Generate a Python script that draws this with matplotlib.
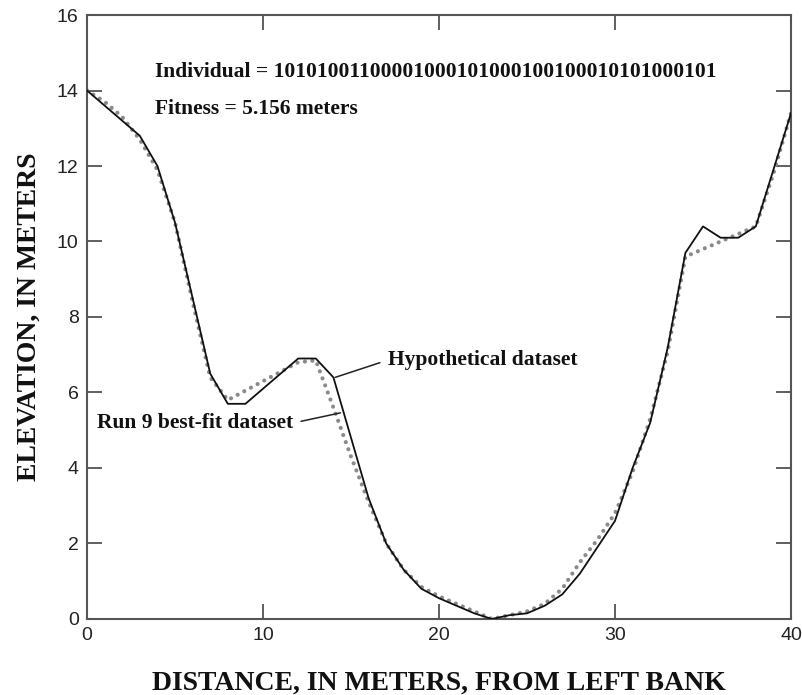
import matplotlib
matplotlib.use("Agg")
import matplotlib.pyplot as plt

# hypothetical channel cross-section (solid)
hypo_x = [0, 3, 4, 5, 6, 7, 8, 9, 12, 13, 14, 15, 16, 17, 18, 19, 20, 21, 22, 23, 24,
          25, 26, 27, 28, 29, 30, 31, 32, 33, 34, 35, 36, 37, 38, 39, 40]
hypo_y = [14.0, 12.8, 12.0, 10.5, 8.5, 6.5, 5.7, 5.7, 6.9, 6.9, 6.4, 4.8, 3.2, 2.0, 1.3, 0.8, 0.55,
          0.35, 0.15, 0.0, 0.1, 0.15, 0.35, 0.65, 1.2, 1.9, 2.6, 4.0, 5.2, 7.2, 9.7, 10.4, 10.1,
          10.1, 10.4, 11.9, 13.4]

# run 9 best-fit dataset (dotted)
best_x = list(range(0, 41))
best_y = [14.0, 13.7, 13.3, 12.7, 11.9, 10.5, 8.4, 6.4, 5.8, 6.05, 6.3, 6.55, 6.8, 6.85, 5.6,
          4.3, 3.1, 2.0, 1.3, 0.85, 0.6, 0.4, 0.2, 0.0, 0.1, 0.2, 0.4, 0.8, 1.5, 2.1, 2.8, 3.9,
          5.3, 7.1, 9.6, 9.8, 10.0, 10.2, 10.4, 11.8, 13.4]

x_ticks = [0, 10, 20, 30, 40]
y_ticks = [0, 2, 4, 6, 8, 10, 12, 14, 16]

individual = "101010011000010001010001001000101010001" + "01"
fitness = 5.156

SERIF = ["Liberation Serif", "DejaVu Serif"]
SANS = ["Liberation Sans", "DejaVu Sans"]

fig = plt.figure(figsize=(8.02, 6.95), dpi=100)
ax = fig.add_axes([0.1085, 0.1094, 0.8778, 0.8690])

ax.plot(best_x, best_y, color="#8a8a8a", lw=3.0, ls=(0, (0.01, 1.8)),
        dash_capstyle="round", zorder=2)
ax.plot(hypo_x, hypo_y, color="#111", lw=1.3, zorder=3)

ax.set_xlim(0, 40); ax.set_ylim(0, 16)
ax.set_xticks(x_ticks); ax.set_yticks(y_ticks)
ax.tick_params(direction="in", length=11, width=1.2, color="#444",
               top=True, right=True, labelsize=14, pad=6)
for lbl in ax.get_xticklabels() + ax.get_yticklabels():
    lbl.set_family(SANS); lbl.set_color("#222")
for s in ax.spines.values():
    s.set_color("#555"); s.set_linewidth(1.5)

ax.set_xlabel("DISTANCE, IN METERS, FROM LEFT BANK", family=SERIF, fontweight="bold",
              fontsize=20, labelpad=19, color="#111")
ax.set_ylabel("ELEVATION, IN METERS", family=SERIF, fontweight="bold",
              fontsize=20, labelpad=11, color="#111")

ax.text(3.86, 14.5, f"Individual = {individual}",
        family=SERIF, fontweight="bold", fontsize=15.5, va="center", color="#111")
ax.text(3.86, 13.52, f"Fitness = {fitness} meters", family=SERIF, fontweight="bold",
        fontsize=15.5, va="center", color="#111")

ax.annotate("Hypothetical dataset", xy=(14.1, 6.4), xytext=(17.1, 6.86),
            family=SERIF, fontweight="bold", fontsize=15.5, va="center", ha="left", color="#111",
            arrowprops=dict(arrowstyle="-", color="#222", lw=1.1, shrinkA=4, shrinkB=0,
                            relpos=(0, 0.5)))
ax.annotate("Run 9 best-fit dataset", xy=(14.4, 5.46), xytext=(0.55, 5.19),
            family=SERIF, fontweight="bold", fontsize=15.5, va="center", ha="left", color="#111",
            arrowprops=dict(arrowstyle="-", color="#222", lw=1.1, shrinkA=4, shrinkB=0,
                            relpos=(1, 0.5)))

fig.savefig("out.png", dpi=100)
